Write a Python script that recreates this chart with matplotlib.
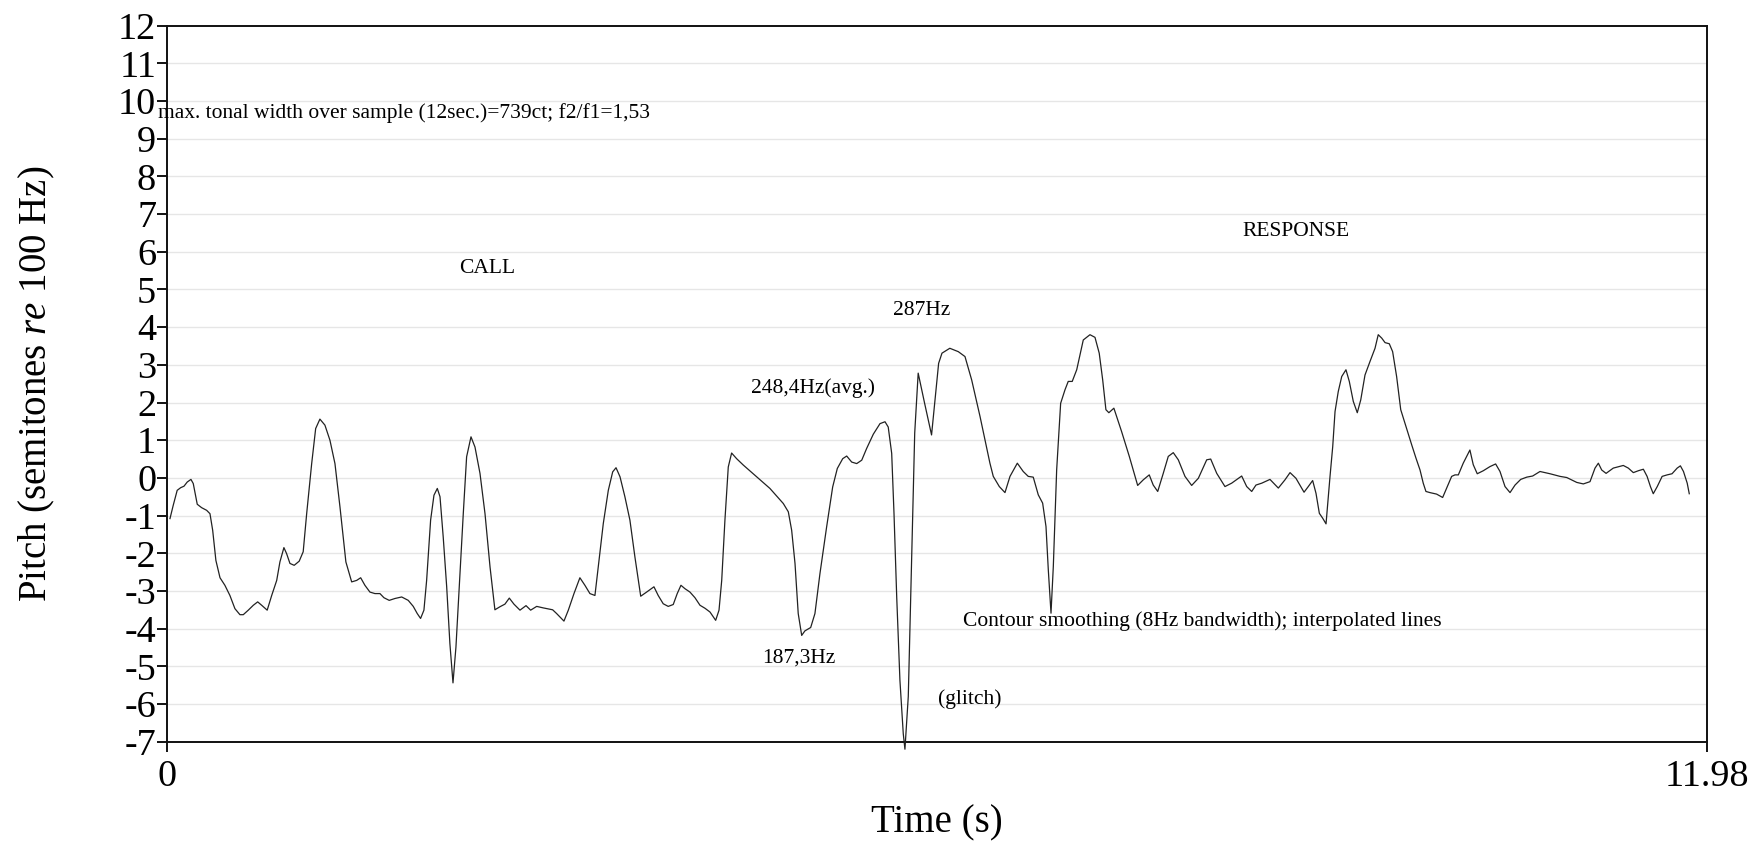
import matplotlib
matplotlib.use('Agg')
import matplotlib.pyplot as plt
import numpy as np

plt.rcParams['font.family'] = ['Liberation Serif', 'DejaVu Serif']
plt.rcParams['mathtext.fontset'] = 'custom'
plt.rcParams['mathtext.rm'] = 'Liberation Serif'
plt.rcParams['mathtext.it'] = 'Liberation Serif:italic'

# pitch contour (time in s, semitones re 100 Hz)
time_s = [
    0.026, 0.051, 0.082, 0.109, 0.135, 0.160, 0.189, 0.207, 0.238, 0.272,
    0.311, 0.337, 0.358, 0.383, 0.415, 0.453, 0.492, 0.531, 0.570, 0.596,
    0.635, 0.674, 0.708, 0.739, 0.782, 0.817, 0.856, 0.881, 0.912, 0.933,
    0.959, 0.992, 1.031, 1.062, 1.089, 1.128, 1.159, 1.192, 1.231, 1.270,
    1.309, 1.348, 1.394, 1.439, 1.478, 1.509, 1.542, 1.581, 1.620, 1.659,
    1.690, 1.731, 1.776, 1.828, 1.879, 1.918, 1.949, 1.975, 2.001, 2.022,
    2.053, 2.079, 2.105, 2.126, 2.151, 2.178, 2.203, 2.227, 2.250, 2.276,
    2.307, 2.333, 2.367, 2.398, 2.437, 2.476, 2.515, 2.553, 2.592, 2.631,
    2.665, 2.701, 2.748, 2.795, 2.831, 2.878, 2.929, 3.002,
    3.033, 3.090, 3.124, 3.168, 3.214, 3.253, 3.292, 3.331, 3.357, 3.396,
    3.435, 3.469, 3.495, 3.526, 3.564, 3.603, 3.642, 3.687, 3.733, 3.790,
    3.823, 3.862, 3.901, 3.940, 3.971, 4.000, 4.031, 4.070, 4.109, 4.148,
    4.187, 4.226, 4.270, 4.296, 4.317, 4.342, 4.368, 4.394, 4.433, 4.485,
    4.589, 4.692, 4.796, 4.835, 4.861, 4.887, 4.912, 4.939, 4.964, 5.009,
    5.042, 5.081, 5.133, 5.180, 5.216, 5.258, 5.289, 5.328, 5.367, 5.406,
    5.444, 5.496, 5.548, 5.587, 5.612, 5.639, 5.657, 5.678, 5.703, 5.729,
    5.742, 5.768, 5.799, 5.818, 5.845, 5.895, 5.949, 5.976, 6.004, 6.030,
    6.091, 6.157, 6.209, 6.261, 6.326, 6.403, 6.429, 6.476, 6.520, 6.559,
    6.616, 6.662, 6.701, 6.740, 6.779, 6.813, 6.839, 6.857, 6.878, 6.896,
    6.922, 6.953, 6.987, 7.012, 7.043, 7.078, 7.129, 7.181, 7.220, 7.253,
    7.280, 7.305, 7.328, 7.367, 7.427, 7.487, 7.552, 7.596, 7.642, 7.673,
    7.708, 7.751, 7.790, 7.829, 7.868, 7.920, 7.972, 8.024, 8.089, 8.120,
    8.167, 8.231, 8.283, 8.361, 8.400, 8.439, 8.472, 8.517, 8.581, 8.646,
    8.698, 8.737, 8.783, 8.846, 8.879, 8.913, 8.939, 8.965, 8.991, 9.017,
    9.048, 9.069, 9.087, 9.112, 9.139, 9.172, 9.198, 9.229, 9.260, 9.287,
    9.320, 9.359, 9.398, 9.423, 9.450, 9.476, 9.509, 9.535, 9.566, 9.598,
    9.639, 9.683, 9.717, 9.748, 9.773, 9.794, 9.825, 9.877, 9.924, 9.955,
    9.994, 10.020, 10.046, 10.084, 10.136, 10.162, 10.193, 10.240, 10.292, 10.336,
    10.370, 10.409, 10.448, 10.487, 10.531, 10.578, 10.624, 10.681, 10.759, 10.837,
    10.889, 10.967, 11.018, 11.070, 11.109, 11.135, 11.161, 11.195, 11.251, 11.329,
    11.368, 11.407, 11.446, 11.485, 11.514, 11.540, 11.562, 11.593, 11.631, 11.670,
    11.708, 11.748, 11.773, 11.797, 11.826, 11.842,
]
pitch_st = [
    -1.08, -0.73, -0.33, -0.26, -0.22, -0.11, -0.04, -0.15, -0.70, -0.79,
    -0.86, -0.95, -1.39, -2.19, -2.65, -2.85, -3.12, -3.47, -3.63, -3.63,
    -3.51, -3.38, -3.29, -3.38, -3.51, -3.12, -2.72, -2.23, -1.85, -2.01,
    -2.27, -2.32, -2.21, -1.96, -0.95, 0.38, 1.31, 1.56, 1.40, 1.00,
    0.38, -0.77, -2.23, -2.76, -2.72, -2.65, -2.85, -3.03, -3.07, -3.07,
    -3.18, -3.25, -3.20, -3.16, -3.25, -3.41, -3.60, -3.73, -3.51, -2.72,
    -1.12, -0.46, -0.28, -0.50, -1.57, -2.89, -4.40, -5.44, -4.49, -2.89,
    -0.95, 0.56, 1.09, 0.82, 0.12, -0.95, -2.36, -3.50, -3.42, -3.35,
    -3.19, -3.35, -3.51, -3.39, -3.51, -3.41, -3.45, -3.50,
    -3.60, -3.80, -3.51, -3.07, -2.65, -2.85, -3.07, -3.12, -2.36, -1.21,
    -0.33, 0.16, 0.27, 0.03, -0.50, -1.12, -2.10, -3.14, -3.03, -2.89,
    -3.12, -3.34, -3.41, -3.36, -3.07, -2.85, -2.94, -3.03, -3.18, -3.38,
    -3.46, -3.56, -3.78, -3.51, -2.72, -1.12, 0.29, 0.66, 0.51, 0.34,
    0.03, -0.28, -0.68, -0.90, -1.39, -2.27, -3.60, -4.18, -4.06, -3.97,
    -3.60, -2.54, -1.30, -0.24, 0.25, 0.51, 0.58, 0.42, 0.38, 0.47,
    0.78, 1.16, 1.44, 1.49, 1.35, 0.65, -0.95, -3.16, -5.37, -6.79,
    -7.20, -5.80, -1.47, 1.19, 2.78, 1.98, 1.14, 2.07, 3.04, 3.31,
    3.44, 3.35, 3.22, 2.60, 1.63, 0.39, 0.04, -0.23, -0.39, 0.04,
    0.39, 0.17, 0.04, 0.02, -0.45, -0.67, -1.29, -2.44, -3.59, -2.35,
    0.21, 1.98, 2.34, 2.56, 2.56, 2.87, 3.66, 3.80, 3.73, 3.31,
    2.60, 1.81, 1.73, 1.85, 1.23, 0.57, -0.20, -0.05, 0.08, -0.19,
    -0.36, 0.12, 0.57, 0.67, 0.48, 0.04, -0.20, -0.01, 0.48, 0.50,
    0.12, -0.23, -0.14, 0.05, -0.23, -0.36, -0.19, -0.14, -0.04, -0.27,
    -0.05, 0.14, -0.01, -0.38, -0.23, -0.07, -0.41, -0.94, -1.07, -1.22,
    0.04, 0.83, 1.76, 2.29, 2.69, 2.87, 2.56, 2.03, 1.73, 2.07,
    2.73, 3.09, 3.44, 3.80, 3.71, 3.59, 3.56, 3.35, 2.69, 1.81,
    1.36, 0.88, 0.52, 0.21, -0.14, -0.36, -0.39, -0.43, -0.52, -0.27,
    0.04, 0.08, 0.08, 0.39, 0.74, 0.35, 0.11, 0.19, 0.30, 0.37,
    0.17, -0.23, -0.39, -0.19, -0.04, 0.02, 0.05, 0.17, 0.11, 0.04,
    0.01, -0.12, -0.16, -0.10, 0.26, 0.39, 0.21, 0.12, 0.26, 0.33,
    0.26, 0.14, 0.19, 0.23, 0.04, -0.23, -0.42, -0.23, 0.04, 0.08,
    0.11, 0.26, 0.32, 0.17, -0.14, -0.42,
]

y_ticks = list(range(-7, 13))
x_ticks = [0, 11.98]
x_tick_labels = ['0', '11.98']

# annotations: (text, time, semitone)
notes = [
    ('max. tonal width over sample (12sec.)=739ct; f2/f1=1,53', -0.068, 9.68),
    ('CALL', 2.274, 5.55),
    ('RESPONSE', 8.364, 6.53),
    ('287Hz', 5.646, 4.44),
    ('248,4Hz(avg.)', 4.544, 2.38),
    ('187,3Hz', 4.628, -4.77),
    ('(glitch)', 5.998, -5.88),
    ('Contour smoothing (8Hz bandwidth); interpolated lines', 6.195, -3.80),
]

fig = plt.figure(figsize=(17.56, 8.43), dpi=100)
ax = fig.add_axes([0.0949, 0.1202, 0.8772, 0.8493])

ax.plot(time_s, pitch_st, color='#222222', linewidth=0.9, clip_on=False, zorder=3)

ax.set_xlim(0, 11.98)
ax.set_ylim(-7, 12)
ax.set_yticks(y_ticks)
ax.set_yticklabels([str(v) for v in y_ticks])
ax.set_xticks(x_ticks)
ax.set_xticklabels(x_tick_labels)
ax.tick_params(axis='y', direction='out', length=7, width=1.3, pad=0.5, labelsize=27.5)
ax.tick_params(axis='x', direction='out', length=7, width=1.3, pad=6, labelsize=27.5)

for v in y_ticks[1:-1]:
    ax.axhline(v, color='#e6e6e6', linewidth=1.0, zorder=1)

for side in ['left', 'bottom', 'top', 'right']:
    ax.spines[side].set_linewidth(1.4)
    ax.spines[side].set_color('#111111')

for txt, tx, ty in notes:
    ax.text(tx, ty, txt, fontsize=15.5, ha='left', va='center', zorder=4, clip_on=False)

ax.set_xlabel('Time (s)', fontsize=28, labelpad=7)
ax.set_ylabel('Pitch (semitones $\\it{re}$ 100 Hz)', fontsize=28, labelpad=44)

fig.savefig('out.png', dpi=100)
